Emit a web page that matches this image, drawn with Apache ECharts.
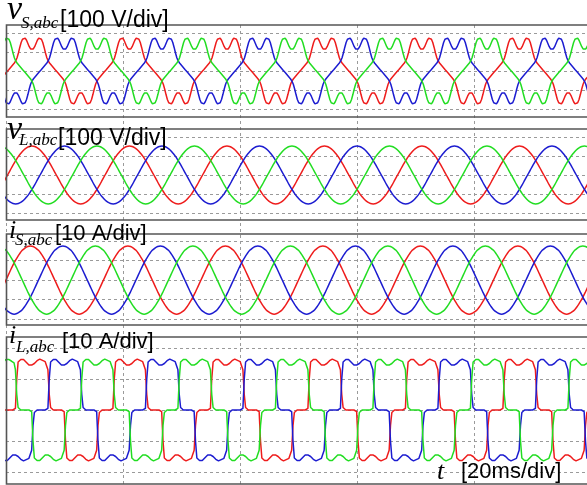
<!DOCTYPE html>
<html><head><meta charset="utf-8">
<script src="https://cdn.jsdelivr.net/npm/echarts@6/dist/echarts.min.js"></script>
<style>html,body{margin:0;padding:0;background:#fff}#c{width:587px;height:485px}</style>
</head><body><div id="c"></div>
<script>
// ---- data ----
const PERIOD_MS = 16.667;               // 60 Hz fundamental
const TIME_DIV_MS = 20;                 // 20 ms/div
const TIME_SPAN_MS = 99.32;             // visible time window
const phaseColors = ['#ee1c1c', '#1c1cd0', '#22dd22']; // a (red), b (blue), c (green)

// one fundamental period of phase a, samples every 5 deg (V), from rising zero crossing
const vS_period = [0,8,16,25,33,42,53,70,95,124,150,167,175,173,162,145,128,116,112,116,128,145,162,173,175,167,150,124,95,70,53,42,33,25,16,8,
                   0,-8,-16,-25,-33,-42,-53,-70,-95,-124,-150,-167,-175,-173,-162,-145,-128,-116,-112,-116,-128,-145,-162,-173,-175,-167,-150,-124,-95,-70,-53,-42,-33,-25,-16,-8];
// samples every 10 deg (V)
const vL_period = [0,26,52,76,98,116,132,143,150,152,150,143,132,116,98,76,52,26,
                   0,-26,-52,-76,-98,-116,-132,-143,-150,-152,-150,-143,-132,-116,-98,-76,-52,-26];
// samples every 10 deg (A)
const iS_period = [0,3.0,6.0,8.8,11.2,13.4,15.2,16.4,17.2,17.5,17.2,16.4,15.2,13.4,11.2,8.8,6.0,3.0,
                   0,-3.0,-6.0,-8.8,-11.2,-13.4,-15.2,-16.4,-17.2,-17.5,-17.2,-16.4,-15.2,-13.4,-11.2,-8.8,-6.0,-3.0];
// samples every 5 deg (A)
const iL_period = [0,0,0,0,0,0.5,10,15.5,16,16.3,16.4,16.3,16,15.4,14.8,14.5,14.4,14.5,14.7,15,15.4,15.9,16.3,16.4,16.3,16,15.8,15.6,15.2,13,5,0.8,0.2,0,0,0,
                   0,0,0,0,0,-0.5,-10,-15.5,-16,-16.3,-16.4,-16.3,-16,-15.4,-14.8,-14.5,-14.4,-14.5,-14.7,-15,-15.4,-15.9,-16.3,-16.4,-16.3,-16,-15.8,-15.6,-15.2,-13,-5,-0.8,-0.2,0,0,0];
// time (ms) of phase-a rising zero crossing in each trace
const vS_start = 0.27, vL_start = 0.27, iS_start = 0.0, iL_start = 0.45;

const panelTitles = [
  {sym:'v', sub:'S,abc', unit:'[100 V/div]'},
  {sym:'v', sub:'L,abc', unit:'[100 V/div]'},
  {sym:'i', sub:'S,abc', unit:'[10 A/div]'},
  {sym:'i', sub:'L,abc', unit:'[10 A/div]'}
];
const timeLabel = {sym:'t', unit:'[20ms/div]'};
const yRanges = [[-200,200,100],[-200,200,100],[-20,20,10],[-20,20,10]];

// ---- build ----
function traces(period, start, gi) {
  const N = period.length, out = [];
  for (let p = 0; p < 3; p++) {
    const off = start + p * PERIOD_MS / 3;
    const data = [];
    for (let k = -N; k <= 8 * N; k++) {
      const t = off + k * PERIOD_MS / N;
      if (t < -1 || t > TIME_SPAN_MS + 1) continue;
      data.push([t, period[((k % N) + N) % N]]);
    }
    out.push({type:'line', xAxisIndex:gi, yAxisIndex:gi, data, showSymbol:false, symbol:'none',
      smooth: N < 50 ? 0.4 : false, lineStyle:{color:phaseColors[p], width:1.5}, z:5, silent:true});
  }
  return out;
}

const gridBoxes = [
  {top:33, height:76}, {top:137, height:76}, {top:241, height:78}, {top:348, height:124}
];
const frames = [[25,92],[129,91],[234,91],[337,147]];
const dash = {color:'#9a9a9a', width:1, type:[3,3]};

const grid = gridBoxes.map(g => ({left:6, right:0, top:g.top, height:g.height}));
grid.push({left:6, right:0, top:25, height:459});
const xAxis = grid.map((g,i) => ({type:'value', gridIndex:i, min:0, max:TIME_SPAN_MS, interval:TIME_DIV_MS,
  axisLine:{show:false}, axisTick:{show:false}, axisLabel:{show:false},
  splitLine:{show:i===4, lineStyle:dash}}));
const yAxis = grid.map((g,i) => i<4 ? ({type:'value', gridIndex:i, min:yRanges[i][0], max:yRanges[i][1], interval:yRanges[i][2],
  axisLine:{show:false}, axisTick:{show:false}, axisLabel:{show:false}, splitLine:{show:true, lineStyle:dash}})
  : ({type:'value', gridIndex:4, min:0, max:1, show:false}));

const series = [].concat(
  traces(vS_period, vS_start, 0), traces(vL_period, vL_start, 1),
  traces(iS_period, iS_start, 2), traces(iL_period, iL_start, 3));

const graphic = [];
frames.forEach(f => graphic.push({type:'rect', shape:{x:6.5, y:f[0], width:600, height:f[1]},
  style:{fill:'none', stroke:'#555', lineWidth:1.6}, z:50, silent:true}));
const titlePos = [
  {sx:7, sy:-6.6, sf:34, bx:21, by:14.7, ux:60, uy:8.8},
  {sx:7, sy:113.4, sf:34, bx:19, by:131.7, ux:58, uy:127.3},
  {sx:9, sy:218, sf:26, bx:15, by:231.7, ux:55, uy:223.3},
  {sx:9, sy:323.2, sf:26, bx:16, by:338.7, ux:62, uy:331.3}
];
panelTitles.forEach((t,i) => {
  const p = titlePos[i];
  graphic.push({type:'text', x:p.sx, y:p.sy, z:100, style:{text:t.sym, fill:'#000', verticalAlign:'top',
    font:'italic ' + p.sf + 'px "Liberation Serif", serif'}});
  graphic.push({type:'text', x:p.bx, y:p.by, z:100, style:{text:t.sub, fill:'#000', verticalAlign:'top',
    font:'italic 17px "Liberation Serif", serif'}});
  graphic.push({type:'text', x:p.ux, y:p.uy, z:100, style:{text:t.unit, fill:'#000', verticalAlign:'top',
    font:(i < 2 ? '23px' : '22px') + ' "Liberation Sans", Arial, sans-serif'}});
});
graphic.push({type:'text', x:437, y:459.2, z:100, style:{text:timeLabel.sym, fill:'#000', verticalAlign:'top',
  font:'italic 26px "Liberation Serif", serif'}});
graphic.push({type:'text', x:461, y:461.3, z:100, style:{text:timeLabel.unit, fill:'#000', verticalAlign:'top',
  font:'22px "Liberation Sans", Arial, sans-serif'}});

const chart = echarts.init(document.getElementById('c'), null, {renderer:'canvas'});
chart.setOption({animation:false, backgroundColor:'#fff', grid, xAxis, yAxis, series, graphic});
</script></body></html>
